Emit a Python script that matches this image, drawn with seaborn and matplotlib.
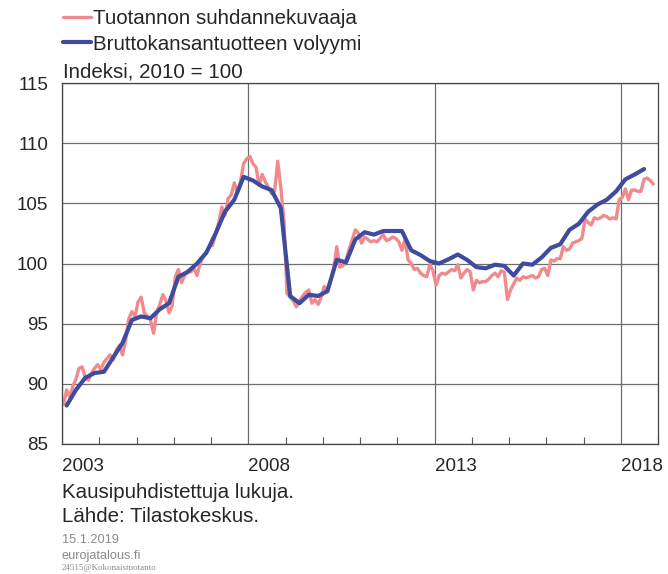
import numpy as np
import pandas as pd
import seaborn as sns
import matplotlib
matplotlib.use("Agg")
import matplotlib.pyplot as plt
from matplotlib.ticker import FixedLocator, MultipleLocator
from matplotlib.lines import Line2D

# ---------------- data ----------------
series_names = ["Tuotannon suhdannekuvaaja", "Bruttokansantuotteen volyymi"]

# Monthly trend indicator of output, Jan 2003 .. Nov 2018
trend_start_year = 2003
trend_values = [
    # 2003
    88.3, 89.5, 88.9, 89.8, 90.4, 91.3, 91.4, 90.5, 90.3, 90.9, 91.3, 91.6,
    # 2004
    91.2, 91.8, 92.1, 92.4, 92.0, 92.8, 93.2, 92.4, 93.6, 95.4, 96.0, 95.6,
    # 2005
    96.8, 97.2, 95.9, 95.6, 95.3, 94.2, 95.9, 96.6, 97.4, 96.9, 95.9, 96.5,
    # 2006
    98.9, 99.5, 98.4, 99.0, 99.4, 99.3, 99.6, 99.0, 100.0, 100.6, 100.9, 101.4,
    # 2007
    101.5, 102.5, 103.4, 104.7, 104.0, 105.4, 105.7, 106.7, 105.9, 106.8, 108.3, 108.7,
    # 2008
    108.9, 108.3, 108.0, 106.5, 107.4, 106.8, 106.3, 105.8, 106.0, 108.5, 106.3, 103.5,
    # 2009
    97.5, 97.2, 96.9, 96.4, 96.9, 97.3, 97.6, 97.8, 96.7, 97.0, 96.6, 97.2,
    # 2010
    98.1, 97.8, 98.6, 99.5, 101.4, 99.7, 99.8, 100.3, 101.2, 102.0, 102.8, 102.5,
    # 2011
    101.7, 102.2, 102.0, 101.8, 101.9, 101.8, 102.1, 102.4, 101.9, 102.0, 102.2, 102.1,
    # 2012
    101.8, 101.1, 102.0, 100.3, 100.0, 99.5, 99.6, 99.2, 99.0, 98.9, 99.9, 99.4,
    # 2013
    98.2, 99.0, 99.2, 99.1, 99.3, 99.5, 99.4, 99.9, 98.8, 99.2, 99.5, 99.3,
    # 2014
    97.8, 98.6, 98.4, 98.5, 98.5, 98.7, 99.0, 99.2, 98.9, 99.4, 99.3, 97.0,
    # 2015
    97.8, 98.3, 98.8, 98.6, 98.9, 98.8, 98.9, 99.0, 98.8, 98.9, 99.5, 99.6,
    # 2016
    99.0, 100.3, 100.2, 100.4, 100.4, 101.4, 101.1, 101.2, 101.7, 101.8, 101.9, 102.1,
    # 2017
    103.7, 103.4, 103.2, 103.8, 103.7, 103.8, 104.0, 103.9, 103.7, 103.8, 103.7, 105.3,
    # 2018
    105.5, 106.2, 105.3, 106.1, 106.1, 106.0, 106.0, 107.0, 107.1, 106.9, 106.6,
]

# Quarterly GDP volume, 2003Q1 .. 2018Q3
gdp_start_year = 2003
gdp_values = [
    88.2, 89.5, 90.5, 90.9,      # 2003
    91.0, 92.2, 93.4, 95.3,      # 2004
    95.6, 95.45, 96.2, 96.7,     # 2005
    98.9, 99.3, 100.0, 100.9,    # 2006
    102.5, 104.3, 105.3, 107.2,  # 2007
    106.9, 106.4, 106.1, 104.6,  # 2008
    97.3, 96.7, 97.4, 97.3,      # 2009
    97.7, 100.3, 100.1, 102.0,   # 2010
    102.6, 102.4, 102.7, 102.7,  # 2011
    102.7, 101.1, 100.7, 100.2,  # 2012
    100.0, 100.35, 100.75, 100.3,  # 2013
    99.7, 99.6, 99.9, 99.8,      # 2014
    99.0, 100.0, 99.9, 100.5,    # 2015
    101.3, 101.6, 102.8, 103.3,  # 2016
    104.3, 104.9, 105.3, 106.0,  # 2017
    107.0, 107.4, 107.85,        # 2018
]

year_ticks = [2003, 2008, 2013, 2018]
y_ticks = [85, 90, 95, 100, 105, 110, 115]

# ---------------- build frame ----------------
t_month = trend_start_year + (np.arange(len(trend_values)) + 0.5) / 12.0
t_quarter = gdp_start_year + (np.arange(len(gdp_values)) + 0.5) / 4.0
df = pd.concat([
    pd.DataFrame({"t": t_month, "v": trend_values, "series": series_names[0]}),
    pd.DataFrame({"t": t_quarter, "v": gdp_values, "series": series_names[1]}),
], ignore_index=True)

# ---------------- plot ----------------
sns.set_style("white")
plt.rcParams["font.family"] = ["Liberation Sans", "DejaVu Sans"]

fig = plt.figure(figsize=(6.68, 5.74), dpi=100)
ax = fig.add_axes([62 / 668, 1 - 444 / 574, 596 / 668, 361 / 574])

pink = "#F08A8C"
blue = "#3F4B9E"
sns.lineplot(data=df, x="t", y="v", hue="series",
             palette={series_names[0]: pink, series_names[1]: blue},
             ax=ax, legend=False, estimator=None, sort=False)
lines = ax.get_lines()
lines[0].set_linewidth(2.4)
lines[1].set_linewidth(3.0)
lines[0].set_solid_capstyle("round")
lines[1].set_solid_capstyle("round")
lines[1].set_zorder(3)

ax.set_xlim(2003, 2019)
ax.set_ylim(85, 115)
ax.set_xlabel("")
ax.set_ylabel("")

grid_c = "#6e6e6e"
ax.xaxis.set_major_locator(FixedLocator(year_ticks))
ax.xaxis.set_minor_locator(MultipleLocator(1))
ax.set_xticks(year_ticks)
ax.set_xticklabels([str(y) for y in year_ticks], fontsize=13.5, ha="left")
ax.set_yticks(y_ticks)
ax.set_yticklabels([str(y) for y in y_ticks], fontsize=13.5)
ax.tick_params(axis="x", which="major", length=0, pad=10)
ax.tick_params(axis="x", which="minor", direction="in", length=5,
               color="#555555", width=0.8, bottom=True)
ax.tick_params(axis="y", length=0, pad=10)
ax.grid(True, which="major", color=grid_c, linewidth=0.9)
ax.set_axisbelow(True)
for s in ax.spines.values():
    s.set_visible(True)
    s.set_color("#444444")
    s.set_linewidth(0.9)

# legend (above the plot)
txt_fs = 14.8
handles = [Line2D([], [], color=pink, lw=2.4), Line2D([], [], color=blue, lw=3.0)]
fig.legend(handles, series_names, loc="upper left",
           bbox_to_anchor=(59 / 668, 1 - 5 / 574), frameon=False,
           fontsize=txt_fs, handlelength=1.35, handletextpad=0.1,
           labelspacing=0.32, borderpad=0.2, borderaxespad=0)

fig.text(63 / 668, 1 - 72 / 574, "Indeksi, 2010 = 100", fontsize=txt_fs,
         va="center", ha="left")

fig.text(62 / 668, 1 - 492 / 574, "Kausipuhdistettuja lukuja.", fontsize=txt_fs,
         va="center", ha="left")
fig.text(62 / 668, 1 - 516 / 574, "Lähde: Tilastokeskus.", fontsize=txt_fs,
         va="center", ha="left")
fig.text(62 / 668, 1 - 540 / 574, "15.1.2019", fontsize=9.2, color="#8a8a8a",
         va="center", ha="left")
fig.text(62 / 668, 1 - 556 / 574, "eurojatalous.fi", fontsize=9.2, color="#8a8a8a",
         va="center", ha="left")
fig.text(62 / 668, 1 - 568 / 574, "24515@Kokonaistuotanto", fontsize=6.5,
         color="#8a8a8a", va="center", ha="left", family="Liberation Serif")

fig.savefig("out.png", dpi=100, facecolor="white")
